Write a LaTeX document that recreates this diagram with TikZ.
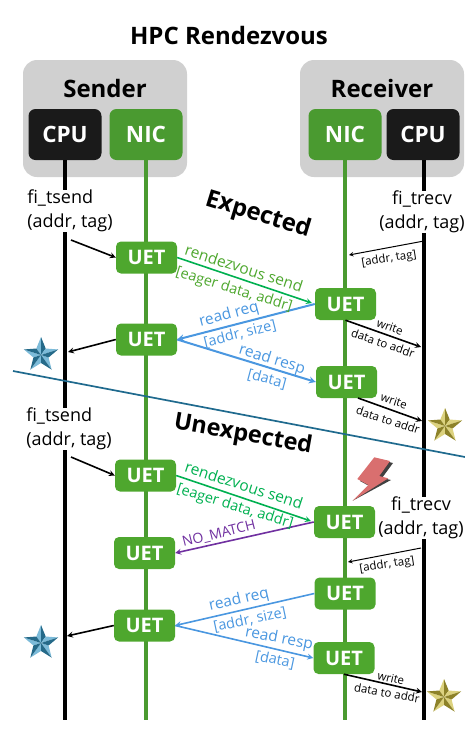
\documentclass[tikz,border=0pt]{standalone}
\usepackage{fontspec}
\setmainfont{Open Sans}
\definecolor{hostgray}{HTML}{D0D0D0}
\definecolor{cpublack}{HTML}{1A1A1A}
\definecolor{nicgreen}{HTML}{4A9A30}
\definecolor{uetgreen}{HTML}{4EA72E}
\definecolor{sendgreen}{HTML}{00B050}
\definecolor{readblue}{HTML}{4A97E0}
\definecolor{nomatch}{HTML}{7030A0}
\definecolor{divider}{HTML}{1F6A8E}
\definecolor{starblue}{HTML}{3597C4}
\definecolor{stargold}{HTML}{C9B93A}
\definecolor{boltred}{HTML}{D96F6F}
\newcommand{\fs}[1]{\fontsize{#1}{1.33\dimexpr #1pt\relax}\selectfont}
\tikzset{
  host/.style={fill=hostgray,rounded corners=14pt,minimum width=164pt,minimum height=117pt},
  unit/.style={text=white,font=\fs{22.5}\bfseries,rounded corners=7pt,minimum width=73pt,minimum height=51pt,inner sep=0pt},
  uet/.style={fill=uetgreen,text=white,font=\fs{20}\bfseries,rounded corners=5pt,minimum width=61pt,minimum height=32pt,inner sep=0pt},
  call/.style={fill=white,font=\fs{18},inner sep=0pt},
  msg/.style={->,line width=1.6pt},
  note/.style={font=\fs{11.5},inner sep=0pt},
  lbl/.style={font=\fs{15.5},inner sep=0pt},
  brk/.style={font=\fs{14.5},inner sep=0pt},
  star3d/.pic={
    \foreach \a in {90,162,234,306,378}{
      \fill[#1!65!white] (0,0) -- (\a:18pt) -- (\a+36:8pt) -- cycle;
      \fill[#1!70!black] (0,0) -- (\a:18pt) -- (\a-36:8pt) -- cycle;
    }
  }
}
\begin{document}
\begin{tikzpicture}[x=1pt,y=-1pt,>=stealth,line cap=butt]
\useasboundingbox (0,0) rectangle (465,732);
\node[font=\fs{24}\bfseries] (title) at (229,35) {HPC Rendezvous};
% hosts
\node[host] (sender) at (105,118.5) {};
\node[host] (receiver) at (382,118.5) {};
\node[font=\fs{24}\bfseries] (sendername) at (105,88) {Sender};
\node[font=\fs{24}\bfseries] (receivername) at (382,88) {Receiver};
\node[unit,fill=cpublack] (scpu) at (65,134.5) {CPU};
\node[unit,fill=nicgreen] (snic) at (146,134.5) {NIC};
\node[unit,fill=nicgreen] (rnic) at (345,134.5) {NIC};
\node[unit,fill=cpublack] (rcpu) at (423,134.5) {CPU};
% lifelines
\coordinate (sbot) at (65,720); \coordinate (nbot) at (146,720);
\coordinate (mbot) at (345,720); \coordinate (rbot) at (424,720);
\draw[line width=4pt] (scpu.south) -- (sbot);
\draw[line width=4.5pt] (rcpu.south-|rbot) -- (rbot);
\draw[nicgreen,line width=3.5pt] (snic.south) -- (nbot);
\draw[nicgreen,line width=3.5pt] (rnic.south) -- (mbot);
% api calls
\node[call,align=left] (tsenda) at (70,211) {fi\_tsend\\(addr, tag)};
\node[call,align=center] (trecva) at (422,212) {fi\_trecv\\(addr, tag)};
\node[call,align=left] (tsendb) at (69,429) {fi\_tsend\\(addr, tag)};
\node[call,align=center] (trecvb) at (421,518) {fi\_trecv\\(addr, tag)};
% expected
\node[uet] (ea) at (146.5,257.5) {UET};
\node[uet] (eb) at (345.5,304) {UET};
\node[uet] (ec) at (146.5,339.5) {UET};
\node[uet] (ed) at (346.5,382) {UET};
% unexpected
\node[uet] (ua) at (145.5,475.5) {UET};
\node[uet] (ub) at (344.5,522) {UET};
\node[uet] (uc) at (144.5,553) {UET};
\node[uet] (ud) at (345,593.5) {UET};
\node[uet] (ue) at (144.5,625.5) {UET};
\node[uet] (uf) at (344,658) {UET};
% free ends on the lifelines
\coordinate (p1) at (71,240); \coordinate (p2) at (68,352);
\coordinate (p3) at (424,241); \coordinate (p4) at (349,255);
\coordinate (p5) at (421,347); \coordinate (p6) at (358,398);
\coordinate (p7) at (422,421); \coordinate (p8) at (71,457);
\coordinate (p9) at (421,548); \coordinate (p10) at (348,562);
\coordinate (p11) at (67,636); \coordinate (p12) at (422,692);
% arrows
\draw[msg] (p1) -- (ea.west);
\draw[msg,sendgreen,shorten >=3pt] (ea.east) -- (eb.west);
\draw[msg,readblue,line width=2pt] (eb.west) -- (ec.east);
\draw[msg,readblue,line width=2pt] (ec.east) -- (ed.west);
\draw[msg] (ec.west) -- (p2);
\draw[->,line width=1pt] (p3) -- (p4);
\draw[msg] (eb.south) -- (p5);
\draw[msg] (p6) -- (p7);
\draw[msg] (p8) -- (ua.west);
\draw[msg,sendgreen,shorten >=3pt] (ua.east) -- (ub.west);
\draw[msg,nomatch] (ub.west) -- (uc.east);
\draw[->,line width=1pt] (p9) -- (p10);
\draw[msg,readblue] (ud.west) -- (ue.east);
\draw[msg,readblue] (ue.east) -- (uf.west);
\draw[msg] (ue.west) -- (p11);
\draw[msg] (uf.south) -- (p12);
% arrow labels
\node[lbl,text=uetgreen,rotate=-18] (l1) at (244,268) {rendezvous send};
\node[brk,text=uetgreen,rotate=-17] (l2) at (234,290) {[eager data, addr]};
\node[lbl,text=readblue,rotate=15] (l3) at (229,315) {read req};
\node[brk,text=readblue,rotate=14] (l4) at (240,334) {[addr, size]};
\node[lbl,text=readblue,rotate=-17] (l5) at (272,360) {read resp};
\node[brk,text=readblue,rotate=-15] (l6) at (267,379) {[data]};
\node[lbl,text=sendgreen,rotate=-18] (l7) at (244,485) {rendezvous send};
\node[brk,text=sendgreen,rotate=-17] (l8) at (235,507) {[eager data, addr]};
\node[font=\fs{14},inner sep=0pt,text=nomatch,rotate=14] (l9) at (219,534) {NO\_MATCH};
\node[lbl,text=readblue,rotate=13] (l10) at (239,600) {read req};
\node[brk,text=readblue,rotate=12] (l11) at (250,620) {[addr, size]};
\node[lbl,text=readblue,rotate=-11] (l12) at (279,639) {read resp};
\node[brk,text=readblue,rotate=-12] (l13) at (275,660) {[data]};
\node[note,rotate=9] (n1) at (389,259) {[addr, tag]};
\node[note,rotate=-20] (n2) at (390,327) {write};
\node[note,rotate=-19] (n3) at (383,343) {data to addr};
\node[note,rotate=-18] (n4) at (394,401) {write};
\node[note,rotate=-18] (n5) at (388,420) {data to addr};
\node[note,rotate=9] (n6) at (387,565) {[addr, tag]};
\node[note,rotate=-13] (n7) at (391,678) {write};
\node[note,rotate=-10] (n8) at (387,693) {data to addr};
% divider
\coordinate (da) at (13,371); \coordinate (db) at (465,457);
\draw[divider,line width=1.7pt] (da) -- (db);
\node[font=\fs{24}\bfseries,rotate=-17] (expected) at (258,215) {Expected};
\node[font=\fs{23.5}\bfseries,rotate=-10] (unexpected) at (243,435) {Unexpected};
% stars
\pic at (41,355) {star3d=starblue};
\pic at (41,643) {star3d=starblue};
\pic at (445,426) {star3d=stargold};
\pic at (444,697) {star3d=stargold};
% bolt
\fill[black!75] (360,481) -- (377,459) -- (393,463) -- (382,478) -- (391,480) -- (352.7,500.7) -- (371,487) -- cycle;
\fill[boltred] (357.3,479) -- (374.3,457.3) -- (390,461) -- (379.3,476) -- (388.3,478.3) -- (352.7,500.7) -- (368.3,485) -- cycle;
\end{tikzpicture}
\end{document}
